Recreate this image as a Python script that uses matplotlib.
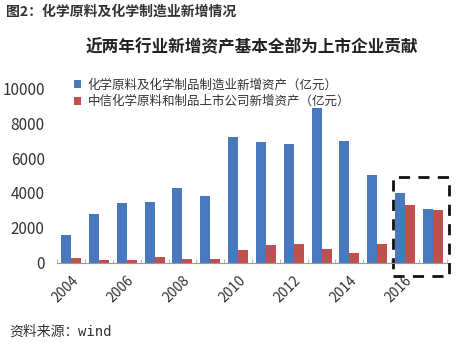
import matplotlib
matplotlib.use("Agg")
import matplotlib.pyplot as plt
from matplotlib.patches import Rectangle
import numpy as np

plt.rcParams['font.family'] = ['Noto Sans CJK SC', 'DejaVu Sans']

years = [2004, 2005, 2006, 2007, 2008, 2009, 2010, 2011, 2012, 2013, 2014, 2015, 2016, 2017]
industry_assets = [1600, 2800, 3400, 3500, 4300, 3800, 7200, 6900, 6800, 8850, 7000, 5050, 4000, 3100]
listed_assets = [250, 150, 150, 300, 200, 200, 750, 1000, 1050, 800, 550, 1050, 3300, 3000]
shown_years = ['2004', '2006', '2008', '2010', '2012', '2014', '2016']
series_names = ['化学原料及化学制品制造业新增资产（亿元）', '中信化学原料和制品上市公司新增资产（亿元）']

blue = '#4A78BE'
red = '#C0504D'

fig = plt.figure(figsize=(4.57, 3.42), dpi=100)
ax = fig.add_axes([0.1254, 0.2319, 0.8521, 0.5099])

x = np.arange(len(years))
w = 0.36
ax.bar(x - w / 2, industry_assets, width=w, color=blue, label=series_names[0])
ax.bar(x + w / 2, listed_assets, width=w, color=red, label=series_names[1])

ax.set_xlim(-0.5, len(years) - 0.5)
ax.set_ylim(0, 10000)
ax.set_yticks(range(0, 10001, 2000))
ax.tick_params(axis='y', length=0, labelsize=11, colors='#333333', pad=9)

label_pos = [i for i, y in enumerate(years) if str(y) in shown_years]
ax.set_xticks(label_pos)
ax.set_xticklabels(shown_years, rotation=45, ha='right', rotation_mode='anchor',
                   fontsize=10, color='#333333')
ax.tick_params(axis='x', length=0, pad=8)
ax.set_xticks(np.arange(-0.5, len(years), 1.0), minor=True)
ax.tick_params(axis='x', which='minor', length=3, direction='in', color='#aaaaaa')

for s in ['top', 'right', 'left']:
    ax.spines[s].set_visible(False)
ax.spines['bottom'].set_color('#999999')

leg = ax.legend(loc='upper left', bbox_to_anchor=(0.03, 1.085), frameon=False,
                fontsize=9, handlelength=0.6, handleheight=0.6, handletextpad=0.5,
                labelspacing=0.3, borderaxespad=0)
for t in leg.get_texts():
    t.set_color('#333333')

# dashed highlight around the last two years
rect = Rectangle((11.575, -760), 2.0, 5690, fill=False, edgecolor='#111111',
                 linestyle=(0, (4, 3)), linewidth=2.0, clip_on=False)
ax.add_patch(rect)

fig.text(0.013, 0.967, '图2：化学原料及化学制造业新增情况', fontsize=10,
         fontweight='bold', color='#333333', va='center', ha='left')
fig.text(0.55, 0.862, '近两年行业新增资产基本全部为上市企业贡献', fontsize=12,
         fontweight='bold', color='#222222', va='center', ha='center')
fig.text(0.02, 0.03, '资料来源：', fontsize=10, color='#333333', va='center', ha='left')
fig.text(0.171, 0.03, 'wind', fontsize=10, color='#333333', va='center', ha='left',
         family='DejaVu Sans Mono')

fig.savefig('out.png', dpi=100, facecolor='white')
